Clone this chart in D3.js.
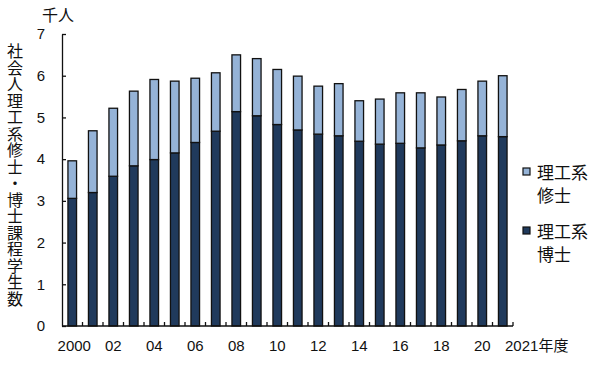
<!DOCTYPE html>
<html><head><meta charset="utf-8">
<script src="https://cdn.jsdelivr.net/npm/d3@7"></script>
<style>
body{margin:0;background:#fff;}
text{font-family:"Liberation Sans","Noto Sans CJK JP",sans-serif;fill:#111;}
.cjk{font-family:"Noto Sans CJK JP",sans-serif;}
</style></head>
<body><svg id="c" width="600" height="366"></svg>
<script>
const years = [2000,2001,2002,2003,2004,2005,2006,2007,2008,2009,2010,2011,2012,2013,2014,2015,2016,2017,2018,2019,2020,2021];
const doctor = [3.06,3.20,3.59,3.84,3.99,4.15,4.40,4.67,5.14,5.04,4.83,4.70,4.60,4.56,4.43,4.36,4.38,4.27,4.34,4.44,4.56,4.54];
const master = [0.90,1.48,1.63,1.79,1.92,1.72,1.54,1.40,1.36,1.37,1.32,1.29,1.15,1.25,0.97,1.08,1.21,1.32,1.15,1.23,1.31,1.46];
const xLabels = ["2000","","02","","04","","06","","08","","10","","12","","14","","16","","18","","20",""];
const yTicks = [0,1,2,3,4,5,6,7];
const seriesNames = ["理工系\n修士","理工系\n博士"];
const colors = {master:"#95b3d7", doctor:"#203a5c"};

const svg = d3.select("#c");
const x = d3.scaleBand().domain(years).range([62,513]).paddingInner(0.58).paddingOuter(0.29);
const y = d3.scaleLinear().domain([0,7]).range([326,34]);

// bars
const g = svg.append("g");
years.forEach((yr,i)=>{
  g.append("rect").attr("x",x(yr)).attr("width",x.bandwidth())
    .attr("y",y(doctor[i])).attr("height",y(0)-y(doctor[i]))
    .attr("fill",colors.doctor).attr("stroke","#111").attr("stroke-width",1.3);
  g.append("rect").attr("x",x(yr)).attr("width",x.bandwidth())
    .attr("y",y(doctor[i]+master[i])).attr("height",y(doctor[i])-y(doctor[i]+master[i]))
    .attr("fill",colors.master).attr("stroke","#111").attr("stroke-width",1.3);
});

// y axis
const yAxis = d3.axisLeft(y).tickValues(yTicks).tickFormat(d3.format("d"))
  .tickSizeInner(-4).tickSizeOuter(0).tickPadding(17);
const ya = svg.append("g").attr("transform","translate(62,0)").call(yAxis);
ya.select(".domain").attr("stroke","#111").attr("stroke-width",1.3);
ya.selectAll(".tick line").attr("stroke","#111").attr("stroke-width",1.3);
ya.selectAll(".tick text").attr("font-size",15).attr("fill","#111")
  .style("font-family","Liberation Sans, sans-serif");

// x axis line & ticks between bands
svg.append("line").attr("x1",62).attr("x2",513).attr("y1",326).attr("y2",326)
  .attr("stroke","#111").attr("stroke-width",1.3);
const step = x.step();
years.forEach((yr,i)=>{
  const bx = x(yr) + x.bandwidth()/2 + step/2;
  svg.append("line").attr("x1",bx).attr("x2",bx).attr("y1",326).attr("y2",322)
    .attr("stroke","#111").attr("stroke-width",1.3);
});
// x labels
years.forEach((yr,i)=>{
  if(!xLabels[i]) return;
  svg.append("text").attr("x",x(yr)+x.bandwidth()/2 + (i===0?2:0)).attr("y",351)
    .attr("text-anchor","middle").attr("font-size",15).text(xLabels[i]);
});
svg.append("text").attr("x",505).attr("y",351).attr("font-size",15).text("2021")
  .append("tspan").attr("class","cjk").attr("font-size",15).text("年度");

// unit
svg.append("text").attr("class","cjk").attr("x",42).attr("y",21).attr("font-size",16).text("千人");

// vertical title
svg.append("text").attr("class","cjk").attr("x",15).attr("y",43)
  .attr("font-size",16).style("writing-mode","vertical-rl").style("letter-spacing","0.5px")
  .text("社会人理工系修士・博士課程学生数");

// legend
const leg = [{c:colors.master,n:seriesNames[0],y:168},{c:colors.doctor,n:seriesNames[1],y:227}];
leg.forEach(l=>{
  svg.append("rect").attr("x",523).attr("y",l.y).attr("width",7).attr("height",7)
    .attr("fill",l.c).attr("stroke","#111").attr("stroke-width",1.2);
  const lines = l.n.split("\n");
  svg.append("text").attr("class","cjk").attr("x",537).attr("y",l.y+11).attr("font-size",17).text(lines[0]);
  svg.append("text").attr("class","cjk").attr("x",537).attr("y",l.y+34).attr("font-size",17).text(lines[1]);
});
</script></body></html>
